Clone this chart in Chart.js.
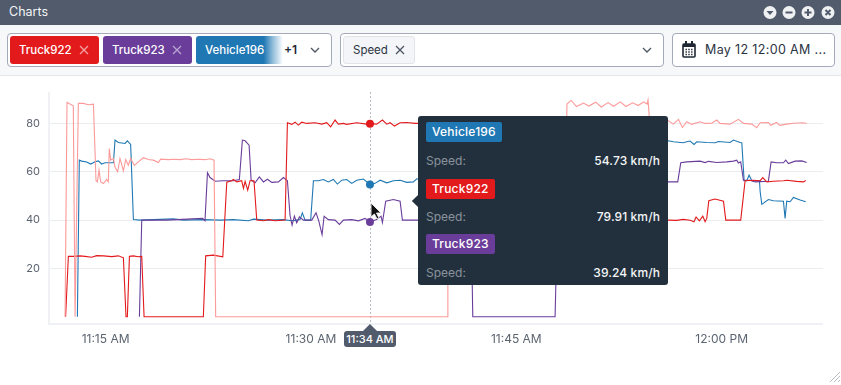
<!DOCTYPE html>
<html>
<head>
<meta charset="utf-8">
<title>Charts</title>
<script src="https://cdn.jsdelivr.net/npm/chart.js@4"></script>
<style>
	html, body { margin: 0; padding: 0; background: #fff; overflow: hidden; }
	body { width: 841px; height: 385px; position: relative; font-family: Inter, sans-serif; color: #2b3442; }
	.abs { position: absolute; box-sizing: border-box; }
	#titlebar { left: 0; top: 0; width: 841px; height: 25px; background: #515b6b; color: #f4f5f7; font-size: 12.5px; line-height: 24px; padding-left: 9px; }
	#filters { left: 0; top: 25px; width: 841px; height: 51px; background: #f7f8fa; border-bottom: 1px solid #e3e6ea; }
	.box { top: 33px; height: 34px; background: #fff; border: 1px solid #a4aaba; border-radius: 4px; }
	.chip { top: 36px; height: 28px; border-radius: 3px; color: #fff; font-size: 11.5px; line-height: 28px; padding-left: 9px; font-weight: 500; white-space: nowrap; overflow: hidden; }
	.x { position: absolute; top: 9px; width: 10px; height: 10px; }
	.chev { top: 47px; width: 10px; height: 6px; }
	#canvasWrap { left: 0; top: 76px; width: 841px; height: 309px; }
	#bubble { top: 331px; width: 52px; height: 16px; background: #515b6b; color: #fff; border-radius: 3px; font-size: 11px; line-height: 16px; font-weight: 500; text-align: center; }
	#bubbleTip { top: 324px; width: 0; height: 0; border-left: 7px solid transparent; border-right: 7px solid transparent; border-bottom: 7px solid #515b6b; }
	#tooltip { left: 418px; top: 116px; width: 250px; height: 169px; background: #22303e; border-radius: 3px; color: #fff; }
	#tooltipTip { left: 412px; top: 195px; width: 12px; height: 12px; background: #22303e; transform: rotate(45deg) scale(.72); }
	.tipName { position: absolute; left: 8px; height: 20px; line-height: 20px; padding: 0 6px; border-radius: 2px; font-size: 12px; font-weight: 500; letter-spacing: .2px; }
	.tipLabel { position: absolute; left: 8px; font-size: 12px; line-height: 16px; color: #8b939c; }
	.tipValue { position: absolute; right: 8px; font-size: 12px; line-height: 16px; font-weight: 500; letter-spacing: .1px; color: #f5f6f7; }
</style>
</head>
<body>
<div class="abs" id="titlebar">Charts</div>
<svg class="abs" style="left:762px;top:4px" width="75" height="17" viewBox="0 0 75 17">
	<g fill="#eef0f2"><circle cx="8" cy="8.5" r="6.5"/><circle cx="27" cy="8.5" r="6.5"/><circle cx="46" cy="8.5" r="6.5"/><circle cx="66" cy="8.5" r="6.5"/></g>
	<path d="M4.5 7h7l-3.5 4z" fill="#515b6b"/>
	<path d="M23.5 8.5h7M42.5 8.5h7M46 5v7M63.5 6l5 5M68.5 6l-5 5" stroke="#515b6b" stroke-width="2" fill="none"/>
</svg>
<div class="abs" id="filters"></div>

<div class="abs box" style="left:7px;width:325px"></div>
<div class="abs chip" style="left:10px;width:89px;background:#e31a1c">Truck922<svg class="x" style="left:69px" viewBox="0 0 10 10"><path d="M1 1l8 8M9 1l-8 8" stroke="#f3a0a1" stroke-width="1.3"/></svg></div>
<div class="abs chip" style="left:103px;width:89px;background:#6a3d9a">Truck923<svg class="x" style="left:69px" viewBox="0 0 10 10"><path d="M1 1l8 8M9 1l-8 8" stroke="#b9a5d0" stroke-width="1.3"/></svg></div>
<div class="abs chip" style="left:196px;width:87px;background:linear-gradient(90deg,#1f78b4 0,#1f78b4 78%,rgba(31,120,180,.5) 88%,rgba(31,120,180,0) 100%)">Vehicle196</div>
<div class="abs" style="left:284px;top:42px;font-size:12px;line-height:16px;font-weight:600;color:#1f2733">+1</div>
<svg class="abs chev" style="left:310px" viewBox="0 0 10 6"><path d="M1 1l4 4 4-4" stroke="#4d5665" stroke-width="1.3" fill="none"/></svg>

<div class="abs box" style="left:340px;width:324px"></div>
<div class="abs chip" style="left:343px;width:72px;background:#f4f5f8;border:1px solid #e2e4ea;color:#2b3442;line-height:26px;font-weight:400">Speed<svg class="x" style="left:51px;top:8px" viewBox="0 0 10 10"><path d="M1 1l8 8M9 1l-8 8" stroke="#4d5665" stroke-width="1.3"/></svg></div>
<svg class="abs chev" style="left:642px" viewBox="0 0 10 6"><path d="M1 1l4 4 4-4" stroke="#4d5665" stroke-width="1.3" fill="none"/></svg>

<div class="abs box" style="left:672px;width:163px"></div>
<svg class="abs" style="left:682px;top:41px" width="14" height="17" viewBox="0 0 14 17">
	<rect x="1" y="3" width="12" height="13" rx="1" fill="none" stroke="#1f2733" stroke-width="1.6"/>
	<path d="M1 3h12v3H1zM3 0h2v3H3zM9 0h2v3H9z" fill="#1f2733"/>
	<path d="M3.5 8.5h7M3.5 11h7M3.5 13.5h7" stroke="#1f2733" stroke-width="1.4" stroke-dasharray="1.4 1.4"/>
</svg>
<div class="abs" style="left:705px;top:42px;font-size:12.5px;line-height:16px;letter-spacing:.35px;color:#2b3442;white-space:nowrap">May 12 12:00 AM ...</div>

<div class="abs" id="canvasWrap"><canvas id="chart" width="841" height="309"></canvas></div>

<div class="abs" id="bubbleTip"></div>
<div class="abs" id="bubble"></div>
<div class="abs" id="tooltipTip"></div>
<div class="abs" id="tooltip"></div>

<svg class="abs" style="left:364px;top:200px" width="20" height="22" viewBox="0 0 20 22">
	<path d="M7 3v14l3.4-3 2.6 5 2-1-2.5-5H17z" fill="#111" stroke="#e8e8e8" stroke-width="1"/>
</svg>
<svg class="abs" style="left:829px;top:371px" width="12" height="12" viewBox="0 0 12 12">
	<path d="M1 11L11 1M5 11l6-6M9 11l2-2" stroke="#b9bdc4" stroke-width="1"/>
</svg>

<script>
// x values are minutes after 11:00 AM
const xTicks = [15, 30, 45, 60];
const xTickLabels = ['11:15 AM', '11:30 AM', '11:45 AM', '12:00 PM'];
const yTicks = [20, 40, 60, 80];
const cursorMinute = 34.31;
const cursorLabel = '11:34 AM';

const seriesNames = ['Vehicle196', 'Truck922', 'Truck923'];
const seriesColors = ['#1f78b4', '#e31a1c', '#6a3d9a'];
const cursorSpeeds = [54.73, 79.91, 39.24];
const pinkColor = '#fb9a99';

const pinkTimes = [12.04, 12.18, 12.64, 12.77, 13.01, 13.38, 13.74, 14.11, 14.3, 14.4, 14.52, 14.64, 14.84, 15.08, 15.2, 15.27, 15.37, 15.57, 15.69, 15.88, 16.05, 16.3, 16.47, 16.66, 16.83, 17.1, 17.39, 17.76, 18.12, 18.49, 18.85, 19.02, 19.58, 19.95, 20.44, 20.87, 21.29, 21.78, 22.26, 22.63, 22.92, 23.04, 39.94, 40.0, 48.6, 48.7, 49.0, 49.4, 49.9, 50.3, 50.8, 51.2, 51.7, 52.1, 52.6, 53.0, 53.5, 53.9, 54.3, 54.55, 54.62, 54.75, 56.11, 56.47, 56.84, 57.13, 57.45, 57.81, 58.42, 58.79, 59.27, 59.64, 59.88, 60.61, 61.22, 61.59, 62.2, 62.56, 62.81, 63.41, 63.58, 64.02, 64.22, 64.75, 65.24, 65.97, 66.21];
const pinkSpeeds = [0, 88.7, 87.3, 0, 88.3, 88.3, 87.7, 88, 56.3, 55.8, 60.7, 55.8, 55.1, 56.8, 55.8, 69.6, 64.8, 65.5, 61.8, 60, 65.5, 60.4, 65.1, 62.7, 65.5, 62.6, 64.1, 65.8, 65.1, 64.8, 63.8, 65.2, 65, 65.2, 65, 65.4, 65, 65.2, 65, 65.4, 64.8, 0, 0, 62, 62, 88, 89.5, 87, 88.4, 87.2, 88.8, 86.8, 88.6, 87.1, 88.9, 87, 88.5, 87.4, 88.9, 88, 89.7, 80, 81.1, 79.7, 81.7, 78.3, 80.7, 79.6, 80.7, 80, 80.1, 81.4, 80, 79.7, 81.7, 80, 79.7, 78.2, 80.3, 80.4, 79.2, 80.4, 79.2, 79.7, 80.1, 80.3, 80];

const blueTimes = [12.94, 13.08, 13.25, 13.62, 13.91, 14.23, 14.47, 14.71, 14.96, 15.57, 15.69, 15.93, 16.42, 16.59, 16.83, 17.03, 17.51, 19.95, 20.68, 22.14, 23.36, 24.33, 25.43, 25.8, 26.77, 27.99, 28.6, 28.96, 29.2, 29.37, 29.57, 29.98, 30.18, 30.54, 30.91, 31.27, 31.64, 31.93, 32.25, 32.61, 32.98, 33.34, 33.83, 34.31, 34.68, 35.05, 35.54, 36.02, 36.51, 37, 37.48, 37.73, 38.5, 50, 50.2, 56.11, 56.47, 57.2, 57.45, 57.69, 57.98, 58.18, 58.91, 59.52, 59.76, 60.61, 60.86, 61.34, 61.47, 61.64, 61.83, 62, 62.2, 62.76, 62.81, 62.93, 63.41, 63.78, 64.51, 64.63, 64.75, 65, 65.24, 65.73, 66.14];
const blueSpeeds = [0, 64.8, 64.4, 64, 63.2, 64.1, 64.5, 63.2, 63.7, 63.7, 73.1, 72.1, 71.7, 72.8, 71.3, 40.2, 40, 40.5, 40, 40.2, 40, 40.2, 39.7, 40.4, 40, 40.2, 39.7, 40, 40.2, 43, 40, 40, 56.3, 56.3, 56.8, 55.8, 56.8, 54.9, 56.5, 56.8, 55.2, 56.5, 57, 54.73, 55.2, 56.5, 55.4, 56.3, 56.5, 55.6, 55.8, 57.1, 56, 56, 72.5, 72.8, 72.4, 72, 72.4, 72.7, 71.3, 72.4, 72.1, 72, 72.5, 72.1, 73.1, 72.1, 72, 56.3, 56.3, 58.6, 56.3, 56.3, 51.7, 46.5, 48.5, 48, 47.8, 40.7, 47.8, 47.6, 49.4, 48.3, 47.6];

const redTimes = [12.08, 12.28, 12.64, 13.13, 13.5, 13.98, 14.35, 14.84, 15.45, 15.93, 16.3, 16.49, 16.59, 16.74, 17.03, 17.39, 17.64, 17.81, 22.14, 22.31, 22.87, 23.56, 23.85, 24.21, 24.33, 24.58, 24.94, 25.07, 25.19, 25.38, 25.55, 25.84, 26.04, 26.53, 26.89, 27.38, 28.11, 28.28, 28.6, 28.84, 29.08, 29.33, 29.69, 30.3, 30.79, 31.15, 31.44, 31.76, 32, 32.37, 32.61, 33.34, 34.07, 34.31, 34.8, 35.22, 35.54, 35.78, 36.1, 36.51, 37, 37.6, 50, 52, 56.11, 56.7, 57.2, 57.69, 57.98, 58.13, 58.37, 58.62, 58.79, 58.91, 59.06, 59.52, 60.13, 60.3, 61.39, 61.71, 62.32, 62.81, 63, 63.29, 63.78, 64.51, 64.75, 65.48, 65.97, 66.14];
const redSpeeds = [0, 25, 25, 25.2, 25, 24.6, 25.3, 25.2, 24.9, 25.2, 24.4, 0, 0, 25, 25.2, 24.8, 25, 0, 0, 25.2, 25.5, 24.8, 55.7, 56.3, 56.8, 55.8, 56.3, 53.1, 56, 52.4, 56.3, 56.3, 40, 39.7, 40.2, 39.7, 40, 80.3, 79.6, 80.5, 79.3, 80.5, 80, 80.3, 79.7, 80.3, 78.6, 81.4, 79.7, 80, 79.6, 80.3, 79.7, 79.91, 79.7, 81.4, 79.7, 80.3, 78.9, 80.3, 80.4, 80, 80, 40, 40, 39.9, 40.3, 39.9, 39.3, 41.3, 39.7, 41.6, 39.3, 40.7, 48, 48.7, 47.8, 40, 40, 56.3, 56.5, 56.3, 57.6, 55.8, 56.1, 56.3, 56.5, 56, 55.8, 56.4];

const purpleTimes = [17.47, 17.64, 19.5, 22.09, 22.26, 22.44, 22.63, 23, 23.6, 24.33, 24.77, 24.99, 25.19, 25.48, 25.63, 25.92, 26.23, 26.53, 26.82, 27.14, 27.62, 27.99, 28.28, 28.47, 28.62, 28.79, 28.96, 29.16, 29.45, 30.06, 30.37, 30.57, 30.81, 30.96, 31.27, 31.76, 32.08, 32.37, 32.98, 33.47, 33.95, 34.31, 34.8, 35.12, 35.22, 35.46, 36.02, 36.51, 36.68, 37.73, 41.7, 41.82, 47.83, 48, 49, 56.79, 57.01, 57.45, 58.42, 58.79, 59.03, 59.64, 60.37, 60.86, 61.1, 61.22, 61.39, 61.59, 62.07, 62.44, 63.41, 63.61, 64.02, 64.51, 64.68, 64.88, 65.36, 65.85, 66.21];
const purpleSpeeds = [0, 40, 40, 40.7, 39.7, 59.6, 57.6, 56.1, 56.3, 56.3, 56.8, 73.1, 72.8, 71, 56.5, 55.4, 57.9, 55.8, 56.9, 55.6, 55.8, 57.6, 56.3, 42, 37.9, 41.6, 38.9, 41.3, 40, 40, 43, 39.7, 34, 41.6, 40.2, 40, 38.2, 40, 40.2, 39.7, 40.7, 39.24, 40.2, 41.6, 39, 47.8, 48.5, 47.8, 40, 40, 40, 0, 0, 40, 55.8, 55.8, 63.7, 64.1, 64.4, 63.8, 64.3, 63.8, 64.1, 64.4, 64.8, 63.6, 64.1, 56.5, 56.5, 55.8, 56.1, 64.1, 63.7, 63.7, 64.8, 63.4, 64.4, 64.5, 63.8];

function toPoints(times, speeds) {
	return times.map((t, i) => ({ x: t, y: speeds[i] }));
}

function lineSet(label, times, speeds, color) {
	return {
		label: label,
		data: toPoints(times, speeds),
		borderColor: color,
		borderWidth: 1.1,
		pointRadius: 0,
		tension: 0,
	};
}

const crosshair = {
	id: 'crosshair',
	beforeDatasetsDraw(chart) {
		const area = chart.chartArea;
		const x = chart.scales.x.getPixelForValue(cursorMinute);
		const ctx = chart.ctx;
		ctx.save();
		// pale axis rails along the left and bottom of the plot
		ctx.fillStyle = '#f0f1f4';
		ctx.fillRect(area.left - 1, area.top, 2, area.bottom - area.top + 1);
		ctx.fillRect(area.left - 1, area.bottom - 1, area.right - area.left + 1, 2);
		ctx.strokeStyle = '#b8bcc5';
		ctx.setLineDash([2, 2]);
		ctx.lineWidth = 1;
		ctx.beginPath();
		ctx.moveTo(Math.round(x) + 0.5, area.top);
		ctx.lineTo(Math.round(x) + 0.5, area.bottom);
		ctx.stroke();
		ctx.restore();
	},
};

const config = {
	type: 'line',
	data: {
		datasets: [
			{
				label: 'cursor',
				data: cursorSpeeds.map((v) => ({ x: cursorMinute, y: v })),
				showLine: false,
				pointRadius: 4,
				pointBorderWidth: 0,
				pointBackgroundColor: seriesColors,
			},
			lineSet('Pink', pinkTimes, pinkSpeeds, pinkColor),
			lineSet(seriesNames[1], redTimes, redSpeeds, seriesColors[1]),
			lineSet(seriesNames[2], purpleTimes, purpleSpeeds, seriesColors[2]),
			lineSet(seriesNames[0], blueTimes, blueSpeeds, seriesColors[0]),
		],
	},
	options: {
		responsive: false,
		animation: false,
		events: [],
		layout: { padding: { top: 16, right: 18 } },
		plugins: {
			legend: { display: false },
			tooltip: { enabled: false },
		},
		scales: {
			x: {
				type: 'linear',
				min: 10.866,
				max: 67.4,
				afterBuildTicks(axis) {
					axis.ticks = xTicks.map((v) => ({ value: v }));
				},
				afterFit(axis) {
					axis.height = 61;
				},
				grid: { display: false },
				border: { display: false },
				ticks: {
					color: '#5b6470',
					font: { family: 'Inter', size: 12 },
					maxRotation: 0,
					autoSkip: false,
					padding: 0,
					callback: (v) => xTickLabels[xTicks.indexOf(v)],
				},
			},
			y: {
				min: -3,
				max: 93,
				afterBuildTicks(axis) {
					axis.ticks = yTicks.map((v) => ({ value: v }));
				},
				afterFit(axis) {
					axis.width = 49;
				},
				grid: { color: '#eaecf0', drawTicks: false },
				border: { display: false },
				ticks: {
					color: '#5b6470',
					font: { family: 'Inter', size: 11 },
					padding: 9,
				},
			},
		},
	},
	plugins: [crosshair],
};

const chart = new Chart(document.getElementById('chart'), config);

// overlay pieces follow the cursor position on the x scale
const cursorX = chart.scales.x.getPixelForValue(cursorMinute);
const bubble = document.getElementById('bubble');
bubble.textContent = cursorLabel;
bubble.style.left = cursorX - 26 + 'px';
document.getElementById('bubbleTip').style.left = cursorX - 7 + 'px';

const tooltip = document.getElementById('tooltip');
const nameTops = [6, 63, 118];
const rowTops = [37, 93, 149];
seriesNames.forEach((name, i) => {
	const chip = document.createElement('div');
	chip.className = 'tipName';
	chip.textContent = name;
	chip.style.top = nameTops[i] + 'px';
	chip.style.background = seriesColors[i];
	tooltip.appendChild(chip);

	const label = document.createElement('div');
	label.className = 'tipLabel';
	label.textContent = 'Speed:';
	label.style.top = rowTops[i] + 'px';
	tooltip.appendChild(label);

	const value = document.createElement('div');
	value.className = 'tipValue';
	value.textContent = cursorSpeeds[i].toFixed(2) + ' km/h';
	value.style.top = rowTops[i] + 'px';
	tooltip.appendChild(value);
});
</script>
</body>
</html>
